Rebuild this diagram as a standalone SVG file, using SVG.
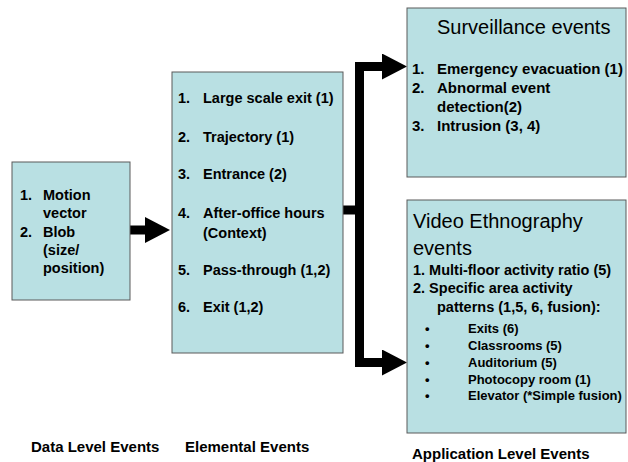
<svg xmlns="http://www.w3.org/2000/svg" width="628" height="462" viewBox="0 0 628 462">
<style>
text{font-family:"Liberation Sans",Arial,sans-serif;fill:#000}
.box{fill:#b9e0e3;stroke:#5a5a5a;stroke-width:1}
.it{font-size:14.5px;font-weight:bold}
.it15{font-size:15px;font-weight:bold}
.sm{font-size:13px;font-weight:bold}
.ttl{font-size:20px}
.lbl{font-size:15px;font-weight:bold}
.conn{fill:none;stroke:#000;stroke-width:9;stroke-linejoin:miter}
</style>
<defs>
<marker id="ah" markerUnits="userSpaceOnUse" viewBox="0 0 25 26" markerWidth="25" markerHeight="26" refX="1" refY="13" orient="auto">
<path d="M0,0 L25,13 L0,26 z" fill="#000"/>
</marker>
</defs>
<rect width="628" height="462" fill="#fff"/>
<g id="connectors">
<path class="conn" d="M130,230 H146" marker-end="url(#ah)"/>
<path class="conn" d="M343,210 H364"/>
<path class="conn" d="M359.5,212 V66.5 H383" marker-end="url(#ah)"/>
<path class="conn" d="M359.5,208 V362.5 H383" marker-end="url(#ah)"/>
</g>
<g id="data-level">
<rect class="box" x="12" y="162" width="118" height="138"/>
<text class="it" x="20" y="200">1.</text><text class="it" x="43" y="200">Motion</text>
<text class="it" x="43" y="218">vector</text>
<text class="it" x="20" y="237">2.</text><text class="it" x="43" y="237">Blob</text>
<text class="it" x="43" y="255">(size/</text>
<text class="it" x="43" y="273">position)</text>
</g>
<g id="elemental">
<rect class="box" x="172" y="72" width="171" height="281"/>
<text class="it" x="178" y="103">1.</text><text class="it" x="203" y="103">Large scale exit (1)</text>
<text class="it" x="178" y="142">2.</text><text class="it" x="203" y="142">Trajectory (1)</text>
<text class="it" x="178" y="179">3.</text><text class="it" x="203" y="179">Entrance (2)</text>
<text class="it" x="178" y="218">4.</text><text class="it" x="203" y="218">After-office hours</text>
<text class="it" x="203" y="238">(Context)</text>
<text class="it" x="178" y="275">5.</text><text class="it" x="203" y="275">Pass-through (1,2)</text>
<text class="it" x="178" y="312">6.</text><text class="it" x="203" y="312">Exit (1,2)</text>
</g>
<g id="surveillance">
<rect class="box" x="407" y="8" width="219" height="169"/>
<text class="ttl" x="437" y="34">Surveillance events</text>
<text class="it15" x="412" y="74">1.</text><text class="it15" x="437" y="74">Emergency evacuation (1)</text>
<text class="it15" x="412" y="93">2.</text><text class="it15" x="437" y="93">Abnormal event</text>
<text class="it15" x="437" y="112">detection(2)</text>
<text class="it15" x="412" y="131">3.</text><text class="it15" x="437" y="131">Intrusion (3, 4)</text>
</g>
<g id="ethnography">
<rect class="box" x="407" y="200" width="219" height="233"/>
<text class="ttl" x="413" y="228">Video Ethnography</text>
<text class="ttl" x="413" y="255">events</text>
<text class="it" x="413" y="275">1. Multi-floor activity ratio (5)</text>
<text class="it" x="413" y="293">2. Specific area activity</text>
<text class="it" x="437" y="312">patterns (1,5, 6, fusion):</text>
<text class="sm" x="425" y="333">•</text><text class="sm" x="468" y="333">Exits (6)</text>
<text class="sm" x="425" y="350">•</text><text class="sm" x="468" y="350">Classrooms (5)</text>
<text class="sm" x="425" y="367">•</text><text class="sm" x="468" y="367">Auditorium (5)</text>
<text class="sm" x="425" y="384">•</text><text class="sm" x="468" y="384">Photocopy room (1)</text>
<text class="sm" x="425" y="400">•</text><text class="sm" x="468" y="400">Elevator (*Simple fusion)</text>
</g>
<g id="labels">
<text class="lbl" x="31" y="452">Data Level Events</text>
<text class="lbl" x="185" y="452">Elemental Events</text>
<text class="lbl" x="412" y="459">Application Level Events</text>
</g>
</svg>
